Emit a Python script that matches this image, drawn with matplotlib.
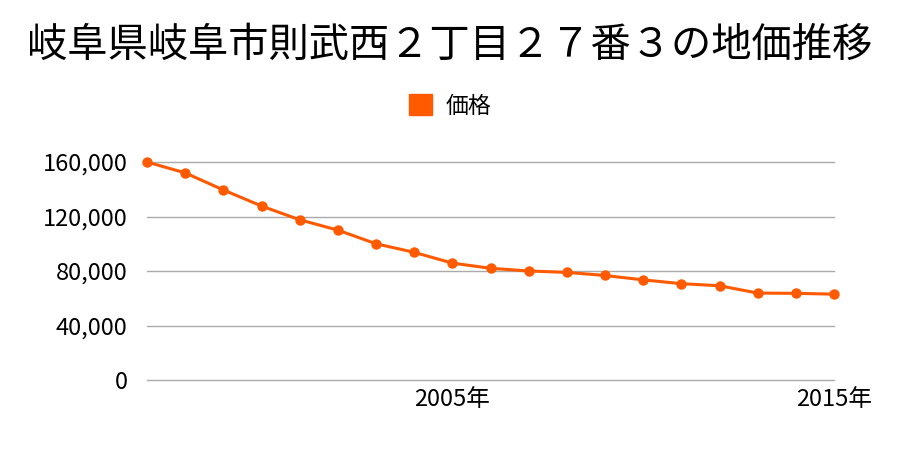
import matplotlib
matplotlib.use("Agg")
import matplotlib.pyplot as plt
from matplotlib.ticker import FuncFormatter

plt.rcParams['font.family'] = ['Noto Sans CJK JP', 'DejaVu Sans']

title = "岐阜県岐阜市則武西２丁目２７番３の地価推移"
series_name = "価格"
years = list(range(1997, 2016))
prices = [160000, 152000, 139500, 127700, 117600, 110000, 100000, 93700, 85800,
          82000, 80000, 79000, 76700, 73500, 70700, 69200, 63800, 63600, 63000]
yticks = [0, 40000, 80000, 120000, 160000]
xticks = [2005, 2015]

color = '#ff5a00'

fig = plt.figure(figsize=(9, 4.5), dpi=100)
ax = fig.add_axes([147/900, 1-380/450, (834-147)/900, (380-162)/450])
ax.plot(years, prices, color=color, linewidth=2.2, marker='o', markersize=6.5,
        label=series_name, clip_on=False, zorder=3)
ax.set_xlim(years[0], years[-1])
ax.set_ylim(0, 160000)
ax.set_yticks(yticks)
ax.yaxis.set_major_formatter(FuncFormatter(lambda v, p: f"{int(v):,}"))
ax.set_xticks(xticks)
ax.set_xticklabels([f"{y}年" for y in xticks])
ax.grid(axis='y', color='#aaaaaa', linewidth=1)
for gl in ax.get_ygridlines():
    gl.set_clip_on(False)
ax.set_axisbelow(True)
for s in ax.spines.values():
    s.set_visible(False)
ax.tick_params(length=0, labelsize=17)
ax.tick_params(axis='y', pad=14)
ax.tick_params(axis='x', pad=6)

fig.text(0.5, 1-45/450, title, ha='center', va='center', fontsize=29)
fig.legend(handles=[plt.Rectangle((0, 0), 1, 1, color=color)], labels=[series_name],
           loc='center', bbox_to_anchor=(0.5, 1-106/450), frameon=False,
           fontsize=16.5, handlelength=1.0, handleheight=1.0, handletextpad=0.6)

fig.savefig("out.png", dpi=100)
